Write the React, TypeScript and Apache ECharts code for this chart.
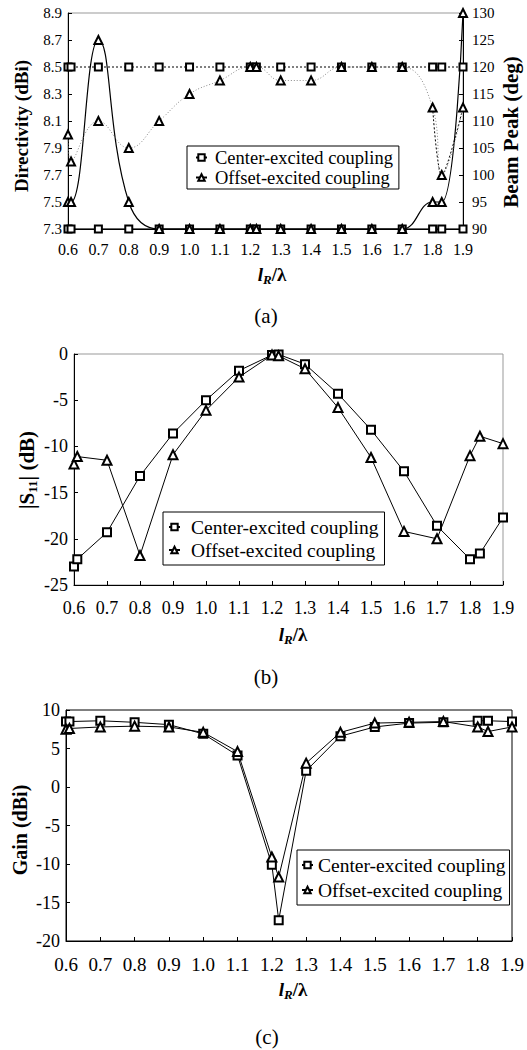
import React, { useEffect, useRef } from "react";
import * as echarts from "echarts";

const xs = [0.6, 0.61, 0.7, 0.8, 0.9, 1.0, 1.1, 1.2, 1.22, 1.3, 1.4, 1.5, 1.6, 1.7, 1.8, 1.83, 1.9];

// (a) Directivity (dBi) left axis, Beam peak (deg) right axis
const dirCenter = [8.5, 8.5, 8.5, 8.5, 8.5, 8.5, 8.5, 8.5, 8.5, 8.5, 8.5, 8.5, 8.5, 8.5, 8.5, 8.5, 8.5];
const dirOffset = [8.0, 7.8, 8.1, 7.9, 8.1, 8.3, 8.4, 8.5, 8.5, 8.4, 8.4, 8.5, 8.5, 8.5, 8.2, 7.7, 8.2];
const beamCenter = [90, 90, 90, 90, 90, 90, 90, 90, 90, 90, 90, 90, 90, 90, 90, 90, 90];
const beamOffset = [95, 95, 125, 95, 90, 90, 90, 90, 90, 90, 90, 90, 90, 90, 95, 95, 130];

// (b) |S11| (dB)
const s11Center = [-23.0, -22.2, -19.3, -13.2, -8.6, -5.0, -1.8, -0.1, -0.05, -1.1, -4.3, -8.2, -12.7, -18.6, -22.2, -21.6, -17.7];
const s11Offset = [-11.9, -11.1, -11.5, -21.8, -10.9, -6.1, -2.5, -0.1, -0.2, -1.6, -5.8, -11.2, -19.2, -20.0, -11.0, -8.9, -9.7];

// (c) Gain (dBi)
const gainCenter = [8.5, 8.5, 8.6, 8.4, 8.1, 6.9, 4.1, -10.1, -17.3, 2.1, 6.6, 7.8, 8.3, 8.4, 8.6, 8.6, 8.5];
const gainOffset = [7.5, 7.6, 7.8, 7.9, 7.8, 7.1, 4.6, -9.1, -11.7, 3.1, 7.1, 8.3, 8.4, 8.5, 7.8, 7.2, 7.8];

const NAME_C = "Center-excited coupling";
const NAME_O = "Offset-excited coupling";
const captions = ["(a)", "(b)", "(c)"];

const SERIF = "'Liberation Serif', 'Times New Roman', serif";

const pairs = (ys: number[]) => xs.map((x, i) => [x, ys[i]]);

export default function App() {
  const ref = useRef<HTMLDivElement>(null);
  useEffect(() => {
    if (!ref.current) return;
    const chart = echarts.init(ref.current, undefined, { renderer: "svg" });

    const xAxisBase = (gridIndex: number, fontSize: number, margin: number) => ({
      type: "value",
      gridIndex,
      min: 0.6,
      max: 1.9,
      interval: 0.1,
      axisLine: { onZero: false, lineStyle: { color: "#000", width: 1 } },
      axisTick: { inside: true, length: 4, lineStyle: { color: "#000" } },
      axisLabel: {
        color: "#000",
        fontFamily: SERIF,
        fontSize,
        margin,
        formatter: (v: number) => v.toFixed(1),
      },
      splitLine: { show: false },
    });

    const yAxisBase = (gridIndex: number, min: number, max: number, interval: number, fontSize: number, dec: number, position = "left", margin = 6) => ({
      type: "value",
      gridIndex,
      min,
      max,
      interval,
      position,
      axisLine: { show: true, onZero: false, lineStyle: { color: "#000", width: 1 } },
      axisTick: { show: true, inside: true, length: 4, lineStyle: { color: "#000" } },
      axisLabel: {
        color: "#000",
        fontFamily: SERIF,
        fontSize,
        margin,
        formatter: (v: number) => v.toFixed(dec),
      },
      splitLine: { show: false },
    });

    const symC = { symbol: "emptyRect", symbolSize: 7 };
    const symO = { symbol: "emptyTriangle", symbolSize: 8 };
    const black = { color: "#000", borderColor: "#000", borderWidth: 1 };

    const legendBase = (left: number, top: number, fontSize: number, itemGap: number, padding: number[], textPad: number) => ({
      orient: "vertical",
      left,
      top,
      data: [NAME_C, NAME_O],
      backgroundColor: "#fff",
      borderColor: "#000",
      borderWidth: 1,
      borderRadius: 0,
      padding,
      itemGap,
      itemWidth: 11,
      itemHeight: 8,
      selectedMode: false,
      textStyle: { color: "#000", fontFamily: SERIF, fontSize, padding: [0, 0, 0, textPad] },
    });

    const xTitle = (x: number, y: number, fs: number) => ({
      type: "text",
      x,
      y,
      style: {
        text: "{l|l}{r|R}{s|/λ}",
        textAlign: "center",
        textVerticalAlign: "middle",
        align: "center",
        verticalAlign: "middle",
        fill: "#000",
        rich: {
          l: { fontFamily: SERIF, fontSize: fs, fontWeight: "bold", fontStyle: "italic", lineHeight: fs + 4, verticalAlign: "middle" },
          r: { fontFamily: SERIF, fontSize: Math.round(fs * 0.68), fontWeight: "bold", fontStyle: "italic", lineHeight: fs + 4, verticalAlign: "bottom" },
          s: { fontFamily: SERIF, fontSize: fs, fontWeight: "bold", lineHeight: fs + 4, verticalAlign: "middle" },
        },
      },
    });

    const yTitle = (x: number, y: number, text: string, fs: number, rich?: any) => ({
      type: "text",
      x,
      y,
      rotation: Math.PI / 2,
      style: {
        text,
        font: `bold ${fs}px ${SERIF}`,
        fontFamily: SERIF,
        fontSize: fs,
        fontWeight: "bold",
        textAlign: "center",
        textVerticalAlign: "middle",
        align: "center",
        verticalAlign: "middle",
        fill: "#000",
        rich,
      },
    });

    const caption = (x: number, y: number, text: string) => ({
      type: "text",
      x,
      y,
      style: {
        text,
        font: `21px ${SERIF}`,
        fontFamily: SERIF,
        fontSize: 21,
        textAlign: "center",
        textVerticalAlign: "middle",
        align: "center",
        verticalAlign: "middle",
        fill: "#000",
      },
    });

    const tailX = xs.slice(14);
    const tailDir = dirOffset.slice(14).map((v, i) => [tailX[i], v]);

    const option: any = {
      animation: false,
      backgroundColor: "#fff",
      textStyle: { fontFamily: SERIF },
      grid: [
        { left: 68, top: 13, width: 395, height: 216, show: true, borderColor: "#999", borderWidth: 1, backgroundColor: "transparent" },
        { left: 74, top: 354, width: 429, height: 231, show: true, borderColor: "#999", borderWidth: 1, backgroundColor: "transparent" },
        { left: 66, top: 710, width: 446, height: 231, show: true, borderColor: "#000", borderWidth: 1, backgroundColor: "transparent" },
      ],
      xAxis: [xAxisBase(0, 16, 12), xAxisBase(1, 18, 14), xAxisBase(2, 19, 14)],
      yAxis: [
        yAxisBase(0, 7.3, 8.9, 0.2, 15, 1, "left", 6),
        yAxisBase(0, 90, 130, 5, 15, 0, "right", 9),
        yAxisBase(1, -25, 0, 5, 18, 0, "left", 6),
        yAxisBase(2, -20, 10, 5, 18, 0, "left", 6),
      ],
      legend: [
        legendBase(187, 146, 18.5, 1, [2, 6, 2, 8], 3),
        legendBase(163, 512, 19.5, 3, [5, 6, 5, 5], 6),
        legendBase(297, 850, 19.5, 5, [5, 4, 5, 4], 0),
      ],
      series: [
        // (a)
        { name: NAME_C, type: "line", xAxisIndex: 0, yAxisIndex: 1, data: pairs(beamCenter), ...symC, itemStyle: black, lineStyle: { color: "#000", width: 1 } },
        { name: NAME_O, type: "line", xAxisIndex: 0, yAxisIndex: 1, data: pairs(beamOffset), ...symO, smooth: 0.45, itemStyle: black, lineStyle: { color: "#000", width: 1.2 } },
        { name: NAME_C, type: "line", xAxisIndex: 0, yAxisIndex: 0, data: pairs(dirCenter), ...symC, itemStyle: black, lineStyle: { color: "#000", width: 1, type: [2, 2] } },
        { name: NAME_O, type: "line", xAxisIndex: 0, yAxisIndex: 0, data: pairs(dirOffset), ...symO, smooth: 0.45, itemStyle: black, lineStyle: { color: "#888", width: 1, type: [1, 2] } },
        { name: "tail", type: "line", xAxisIndex: 0, yAxisIndex: 0, data: tailDir, showSymbol: false, symbol: "none", smooth: 0.3, lineStyle: { color: "#000", width: 1, type: [2, 2] }, z: 1 },
        // (b)
        { name: NAME_C, type: "line", xAxisIndex: 1, yAxisIndex: 2, data: pairs(s11Center), ...symC, symbolSize: 8, itemStyle: black, lineStyle: { color: "#000", width: 1 } },
        { name: NAME_O, type: "line", xAxisIndex: 1, yAxisIndex: 2, data: pairs(s11Offset), ...symO, symbolSize: 9, itemStyle: black, lineStyle: { color: "#000", width: 1 } },
        // (c)
        { name: NAME_C, type: "line", xAxisIndex: 2, yAxisIndex: 3, data: pairs(gainCenter), ...symC, symbolSize: 8, itemStyle: black, lineStyle: { color: "#000", width: 1 } },
        { name: NAME_O, type: "line", xAxisIndex: 2, yAxisIndex: 3, data: pairs(gainOffset), ...symO, symbolSize: 9, itemStyle: black, lineStyle: { color: "#000", width: 1 } },
      ],
      graphic: [
        xTitle(272, 274, 19),
        xTitle(293, 634, 19),
        xTitle(293, 989, 19),
        yTitle(21, 126, "Directivity (dBi)", 19),
        yTitle(511, 132, "Beam Peak (deg)", 21),
        yTitle(27, 470, "{a||S}{b|11}{a|| (dB)}", 21, {
          a: { fontFamily: SERIF, fontSize: 21, fontWeight: "bold", lineHeight: 24, verticalAlign: "middle" },
          b: { fontFamily: SERIF, fontSize: 13, fontWeight: "bold", lineHeight: 24, verticalAlign: "bottom" },
        }),
        yTitle(20, 830, "Gain (dBi)", 20),
        caption(266, 316, captions[0]),
        caption(266, 677, captions[1]),
        caption(267, 1037, captions[2]),
      ],
    };
    chart.setOption(option);
    return () => chart.dispose();
  }, []);
  return <div ref={ref} style={{ position: "absolute", left: 0, top: 0, width: 527, height: 1050 }} />;
}
